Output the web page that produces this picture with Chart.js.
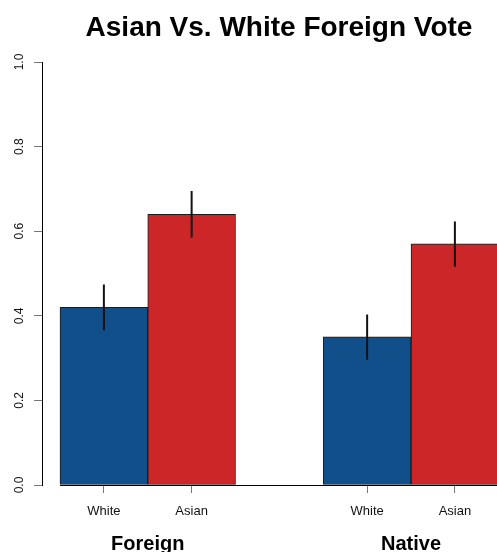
<!DOCTYPE html>
<html>
<head>
<meta charset="utf-8">
<script src="https://cdn.jsdelivr.net/npm/chart.js@4/dist/chart.umd.min.js"></script>
<style>
  html, body { margin: 0; padding: 0; background: #fff; overflow: hidden; width: 497px; height: 552px; }
  #chart { display: block; }
</style>
</head>
<body>
<canvas id="chart" width="558" height="552"></canvas>
<script>
/* Asian vs. White foreign vote, grouped bars with error bars */
const groups = ['Foreign', 'Native'];
const races = ['White', 'Asian'];
const whiteValues = [0.42, 0.35];
const asianValues = [0.64, 0.57];
const whiteLow = [0.366, 0.296];
const whiteHigh = [0.474, 0.403];
const asianLow = [0.585, 0.516];
const asianHigh = [0.695, 0.623];
const yTicks = [0, 0.2, 0.4, 0.6, 0.8, 1.0];

const BLUE = '#114f8b';
const RED = '#cc2629';
const FONT = "'Liberation Sans', Arial, Helvetica, sans-serif";

// each group takes two bar slots plus one empty slot before it
const slot = (g, r) => g * 3 + r + 1;

const barTicks = [];
groups.forEach((g, gi) => races.forEach((r, ri) => barTicks.push({ value: slot(gi, ri), label: r })));

function toPoints(values, ri) {
  return values.map((v, gi) => ({ x: slot(gi, ri), y: v }));
}

const errorBars = {
  id: 'errorBars',
  afterDatasetsDraw(chart) {
    const { ctx, scales: { x, y } } = chart;
    const sets = [[whiteLow, whiteHigh], [asianLow, asianHigh]];
    ctx.save();
    ctx.strokeStyle = '#111';
    ctx.lineWidth = 2;
    sets.forEach(([lo, hi], ri) => {
      lo.forEach((l, gi) => {
        const px = x.getPixelForValue(slot(gi, ri));
        ctx.beginPath();
        ctx.moveTo(px, y.getPixelForValue(l));
        ctx.lineTo(px, y.getPixelForValue(hi[gi]));
        ctx.stroke();
      });
    });
    // baseline under the bars
    const y0 = Math.round(y.getPixelForValue(0)) + 0.5;
    ctx.strokeStyle = '#000';
    ctx.lineWidth = 1;
    ctx.beginPath();
    ctx.moveTo(x.getPixelForValue(slot(0, 0) - 0.5), y0);
    ctx.lineTo(chart.chartArea.right, y0);
    ctx.stroke();
    ctx.restore();
  },
};

const groupLabels = {
  id: 'groupLabels',
  afterDraw(chart) {
    const { ctx, scales: { x } } = chart;
    ctx.save();
    ctx.fillStyle = '#000';
    ctx.font = `bold 20px ${FONT}`;
    ctx.textAlign = 'center';
    ctx.textBaseline = 'alphabetic';
    groups.forEach((g, gi) => {
      const mid = (slot(gi, 0) + slot(gi, races.length - 1)) / 2;
      ctx.fillText(g, x.getPixelForValue(mid), 550);
    });
    ctx.restore();
  },
};

new Chart(document.getElementById('chart'), {
  type: 'bar',
  data: {
    datasets: [
      { label: 'White', data: toPoints(whiteValues, 0), backgroundColor: BLUE },
      { label: 'Asian', data: toPoints(asianValues, 1), backgroundColor: RED },
    ],
  },
  options: {
    responsive: false,
    animation: false,
    devicePixelRatio: 1,
    layout: { padding: { left: 0, right: 0, top: 0, bottom: 21.4 } },
    datasets: {
      bar: {
        grouped: false,
        categoryPercentage: 1,
        barPercentage: 1,
        borderColor: '#1a1a1a',
        borderWidth: 1,
        borderSkipped: false,
      },
    },
    plugins: {
      legend: { display: false },
      tooltip: { enabled: false },
      title: {
        display: true,
        text: 'Asian Vs. White Foreign Vote',
        color: '#000',
        font: { family: FONT, size: 28, weight: 'bold', lineHeight: 1.2 },
        padding: { top: 11.5, bottom: 16.9 },
      },
    },
    scales: {
      x: {
        type: 'linear',
        offset: false,
        min: 0.2949,
        max: 6.175,
        afterBuildTicks: scale => { scale.ticks = barTicks.map(t => ({ value: t.value })); },
        ticks: {
          color: '#111',
          font: { family: FONT, size: 13 },
          padding: 11,
          autoSkip: false,
          maxRotation: 0,
          callback: v => (barTicks.find(t => t.value === v) || {}).label,
        },
        grid: { offset: false, drawOnChartArea: false, drawTicks: true, tickLength: 8, tickColor: '#777' },
        border: { display: false },
      },
      y: {
        min: 0,
        max: 1,
        afterBuildTicks: scale => { scale.ticks = yTicks.map(v => ({ value: v })); },
        afterFit: scale => { scale.width = 42; },
        ticks: {
          color: '#111',
          font: { family: FONT, size: 12 },
          padding: 6,
          minRotation: 90,
          maxRotation: 90,
          crossAlign: 'center',
          autoSkip: false,
          callback: v => v.toFixed(1),
        },
        grid: { drawOnChartArea: false, drawTicks: true, tickLength: 8, tickColor: '#777' },
        border: { display: true, color: '#000', width: 1 },
      },
    },
  },
  plugins: [errorBars, groupLabels],
});
</script>
</body>
</html>
